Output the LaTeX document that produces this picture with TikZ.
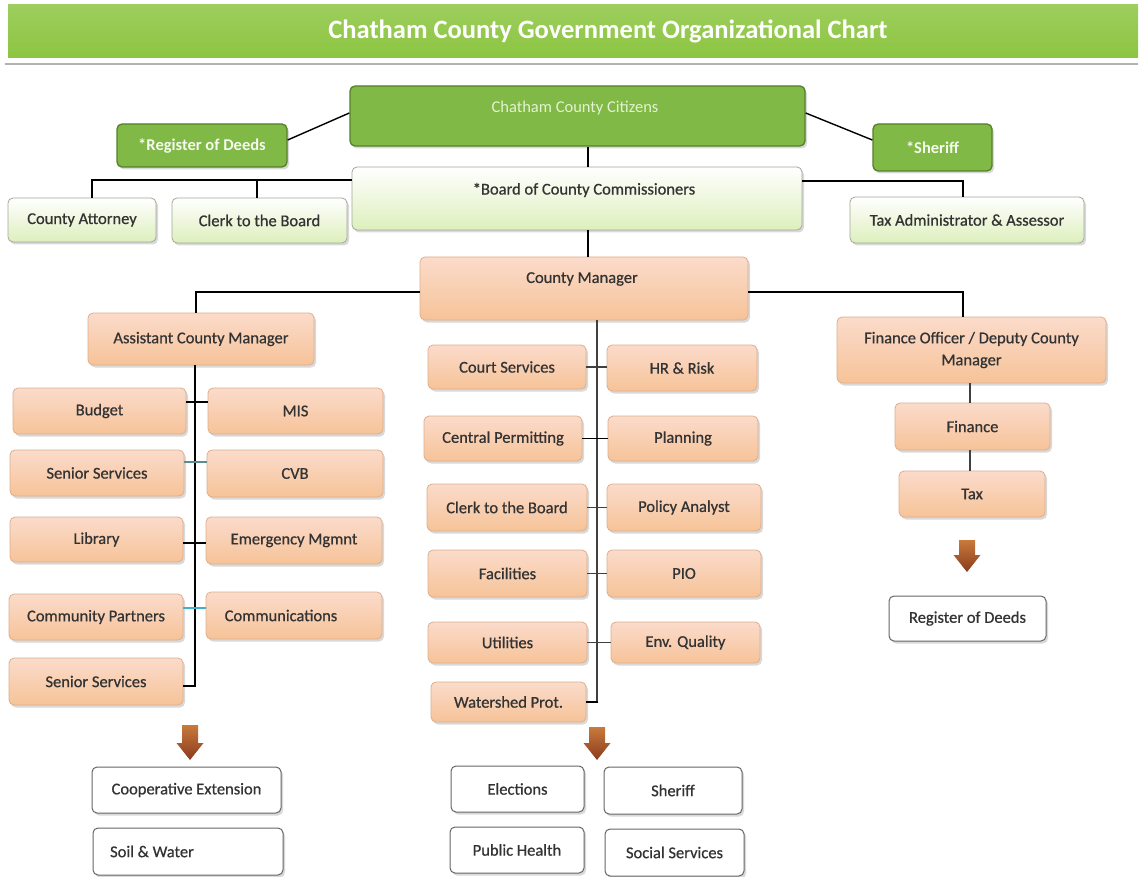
\documentclass[tikz,border=0pt]{standalone}
\usepackage{fontspec}
\setmainfont{Carlito}
\newfontfamily\boxfont[FakeBold=0.7]{Carlito}
\usetikzlibrary{shadows,calc}
\definecolor{txt}{HTML}{333333}
\definecolor{peachtop}{HTML}{FBDBCB}
\definecolor{peachbot}{HTML}{F6C398}
\definecolor{peachline}{HTML}{DDAE8C}
\definecolor{gfill}{HTML}{80B945}
\definecolor{gline}{HTML}{557F2A}
\definecolor{gtext}{HTML}{E4F2D2}
\definecolor{titlegreen}{HTML}{8CC541}
\definecolor{lgreen}{HTML}{DDEFBC}
\definecolor{wline}{HTML}{A2A69C}
\definecolor{arrtop}{HTML}{C97A3C}
\definecolor{arrbot}{HTML}{8A3B1C}
\definecolor{teal}{HTML}{5E8C8C}
\definecolor{cyanl}{HTML}{3FB0D2}
\tikzset{
  basebox/.style={rounded corners=5pt, inner sep=0pt, text=txt,
    font=\boxfont\fontsize{16.5}{19}\selectfont,
    drop shadow={opacity=0.3, shadow xshift=2pt, shadow yshift=-2.5pt}},
  peach/.style={basebox, draw=peachline, line width=0.8pt, top color=peachtop, bottom color=peachbot},
  greenbox/.style={basebox, draw=gline, line width=1.3pt, fill=gfill, text=gtext},
  wgbox/.style={basebox, draw=wline, line width=0.8pt, top color=white, bottom color=lgreen},
  wbox/.style={basebox, draw=black!60, line width=1pt, fill=white},
  conn/.style={draw=black, line width=1.8pt},
  thin/.style={draw=black!75, line width=1.2pt},
  labeltext/.style={inner sep=0pt, text=txt, font=\boxfont\fontsize{16.5}{19}\selectfont},
  brownarrow/.style={top color=arrtop, bottom color=arrbot}
}
\newcommand{\dnarrow}[3]{% x, ytop, ytip
  \shade[brownarrow] (#1-8,#2) -- (#1+8,#2) -- (#1+8,#3-17) -- (#1+13.5,#3-17)
    -- (#1,#3) -- (#1-13.5,#3-17) -- (#1-8,#3-17) -- cycle;}
\begin{document}
\begin{tikzpicture}[x=1pt,y=-1pt]
\useasboundingbox (0,0) rectangle (1140,877);
% title
\node[top color=titlegreen!85!white, bottom color=titlegreen, minimum width=1130pt, minimum height=53pt, inner sep=0pt,
  text=white, font=\fontsize{26.5}{30}\selectfont\bfseries] (title) at (573,31.5) {\hspace*{70pt}Chatham County Government Organizational Chart};
\draw[black!30, line width=1.5pt] (5,64) -- (1138,64);

% top level
\node[greenbox, minimum width=455pt, minimum height=60pt] (cit) at (577.5,116) {};
\node[inner sep=0pt, text=gtext, font=\fontsize{16.5}{19}\selectfont] (citT) at (575,108) {Chatham County Citizens};
\node[greenbox, minimum width=170pt, minimum height=43pt, text=white!92!gfill, font=\fontsize{16.5}{19}\selectfont\bfseries] (rod) at (202,145.5) {*Register of Deeds};
\node[greenbox, minimum width=119pt, minimum height=47pt, text=white!92!gfill, font=\fontsize{16.5}{19}\selectfont\bfseries] (sher) at (932.5,147.5) {*Sheriff};
\node[wgbox, minimum width=450pt, minimum height=63pt] (board) at (577,198.5) {};
\node[labeltext] (boardT) at (584,190) {*Board of County Commissioners};
\node[wgbox, minimum width=148pt, minimum height=44pt] (ca) at (82,220) {County Attorney};
\node[wgbox, minimum width=175pt, minimum height=45pt] (clk1) at (259.5,220.5) {Clerk to the Board};
\node[wgbox, minimum width=234pt, minimum height=46pt] (tax1) at (967,220) {Tax Administrator \& Assessor};

% managers
\node[peach, minimum width=328pt, minimum height=63pt] (cm) at (584,288.5) {};
\node[labeltext] (cmT) at (582,279) {County Manager};
\node[peach, minimum width=226pt, minimum height=52pt] (acm) at (201,339) {Assistant County Manager};
\node[peach, minimum width=269pt, minimum height=66pt, align=center] (fo) at (971.5,350) {Finance Officer / Deputy County\\[3pt]Manager};

% left column
\node[peach, minimum width=173pt, minimum height=46pt] (bud) at (99.5,411) {Budget};
\node[peach, minimum width=175pt, minimum height=46pt] (mis) at (295.5,411) {MIS};
\node[peach, minimum width=174pt, minimum height=46pt] (ss1) at (97,473) {Senior Services};
\node[peach, minimum width=176pt, minimum height=47pt] (cvb) at (295,473.5) {CVB};
\node[peach, minimum width=173pt, minimum height=45pt] (lib) at (96.5,539.5) {Library};
\node[peach, minimum width=176pt, minimum height=47pt] (em) at (294,540.5) {Emergency Mgmnt};
\node[peach, minimum width=174pt, minimum height=46pt] (cp) at (96,617) {Community Partners};
\node[peach, minimum width=176pt, minimum height=47pt] (com) at (294,615.5) {\hspace*{-26pt}Communications};
\node[peach, minimum width=174pt, minimum height=47pt] (ss2) at (96,681.5) {Senior Services};

% middle column
\node[peach, minimum width=158pt, minimum height=44pt] (cs) at (507,367) {Court Services};
\node[peach, minimum width=150pt, minimum height=46pt] (hr) at (682,368) {HR \& Risk};
\node[peach, minimum width=158pt, minimum height=45pt] (cpm) at (503,438.5) {Central Permitting};
\node[peach, minimum width=150pt, minimum height=45pt] (pl) at (683,438.5) {Planning};
\node[peach, minimum width=160pt, minimum height=47pt] (clk2) at (507,507.5) {Clerk to the Board};
\node[peach, minimum width=154pt, minimum height=47pt] (pa) at (684,507.5) {Policy Analyst};
\node[peach, minimum width=159pt, minimum height=47pt] (fac) at (507.5,573.5) {Facilities};
\node[peach, minimum width=154pt, minimum height=47pt] (pio) at (684,573.5) {PIO};
\node[peach, minimum width=159pt, minimum height=41pt] (ut) at (507.5,642.5) {Utilities};
\node[peach, minimum width=149pt, minimum height=41pt] (eq) at (685.5,642.5) {Env. Quality};
\node[peach, minimum width=155pt, minimum height=40pt] (ws) at (508.5,702) {Watershed Prot.};

% right column
\node[peach, minimum width=155pt, minimum height=47pt] (fin) at (972.5,426.5) {Finance};
\node[peach, minimum width=146pt, minimum height=46pt] (tax2) at (972,494) {Tax};
\node[wbox, minimum width=157pt, minimum height=45pt] (rod2) at (967.5,618.5) {Register of Deeds};

% bottom
\node[wbox, minimum width=189pt, minimum height=46pt] (coop) at (186.5,790) {Cooperative Extension};
\node[wbox, minimum width=190pt, minimum height=47pt] (soil) at (188,851.5) {\hspace*{-72pt}Soil \& Water};
\node[wbox, minimum width=133pt, minimum height=46pt] (el) at (517.5,789) {Elections};
\node[wbox, minimum width=138pt, minimum height=47pt] (sh2) at (673,790.5) {Sheriff};
\node[wbox, minimum width=134pt, minimum height=46pt] (ph) at (517,850) {Public Health};
\node[wbox, minimum width=139pt, minimum height=47pt] (soc) at (674.5,852.5) {Social Services};

% connectors top
\draw[conn, line width=1.4pt] ([yshift=5.5pt]rod.east) -- ([yshift=3pt]cit.west);
\draw[conn, line width=1.4pt] ([yshift=3pt]cit.east) -- ([yshift=7.5pt]sher.west);
\draw[conn, line width=1.4pt] ([xshift=10.5pt]cit.south) -- ([xshift=11pt]board.north);
\coordinate (bl) at ([yshift=18.5pt]board.west);
\draw[conn] (bl) -| ([xshift=10pt]ca.north);
\draw[conn] ([xshift=-2.5pt]clk1.north) -- ([xshift=-2.5pt]clk1.north |- bl);
\draw[conn] ([yshift=17.5pt]board.east) -| ([xshift=-4pt]tax1.north);
\draw[conn, line width=1.4pt] ([xshift=11pt]board.south) -- ([xshift=4pt]cm.north);
\draw[conn] ([yshift=-3.5pt]cm.west) -| ([xshift=-5pt]acm.north);
\draw[conn] ([yshift=-3.5pt]cm.east) -| ([xshift=-8.5pt]fo.north);

% left trunk and stubs
\draw[conn] ([xshift=-6pt]acm.south) |- ([yshift=-4.5pt]ss2.east);
\draw[conn] ([yshift=9pt]bud.east) -- ([yshift=9pt]mis.west);
\draw[draw=teal, line width=1.2pt] ([yshift=11pt]ss1.east) -- ([yshift=11.5pt]cvb.west);
\draw[conn] ([yshift=-3.5pt]lib.east) -- ([yshift=-2.5pt]em.west);
\draw[draw=cyanl, line width=1.6pt] ([yshift=9pt]cp.east) -- ([yshift=7.5pt]com.west);

% middle trunk and stubs
\draw[thin] ([xshift=13pt]cm.south) |- (ws.east);
\draw[thin] (cs.east) -- (cs.east -| hr.west);
\draw[conn] (cpm.east) -- (cpm.east -| pl.west);
\draw[thin] (clk2.east) -- (clk2.east -| pa.west);
\draw[thin] (fac.east) -- (fac.east -| pio.west);
\draw[thin] (ut.east) -- (ut.east -| eq.west);
\draw[conn] ([xshift=12pt]ws.east) -- (ws.east);

% right
\draw[thin] ([xshift=-1.5pt]fo.south) -- ([xshift=-2.5pt]fin.north);
\draw[thin] ([xshift=-2.5pt]fin.south) -- ([xshift=-2pt]tax2.north);

% arrows
\dnarrow{190}{725}{760}
\dnarrow{597}{727}{760}
\dnarrow{967}{540}{572}
\end{tikzpicture}
\end{document}
